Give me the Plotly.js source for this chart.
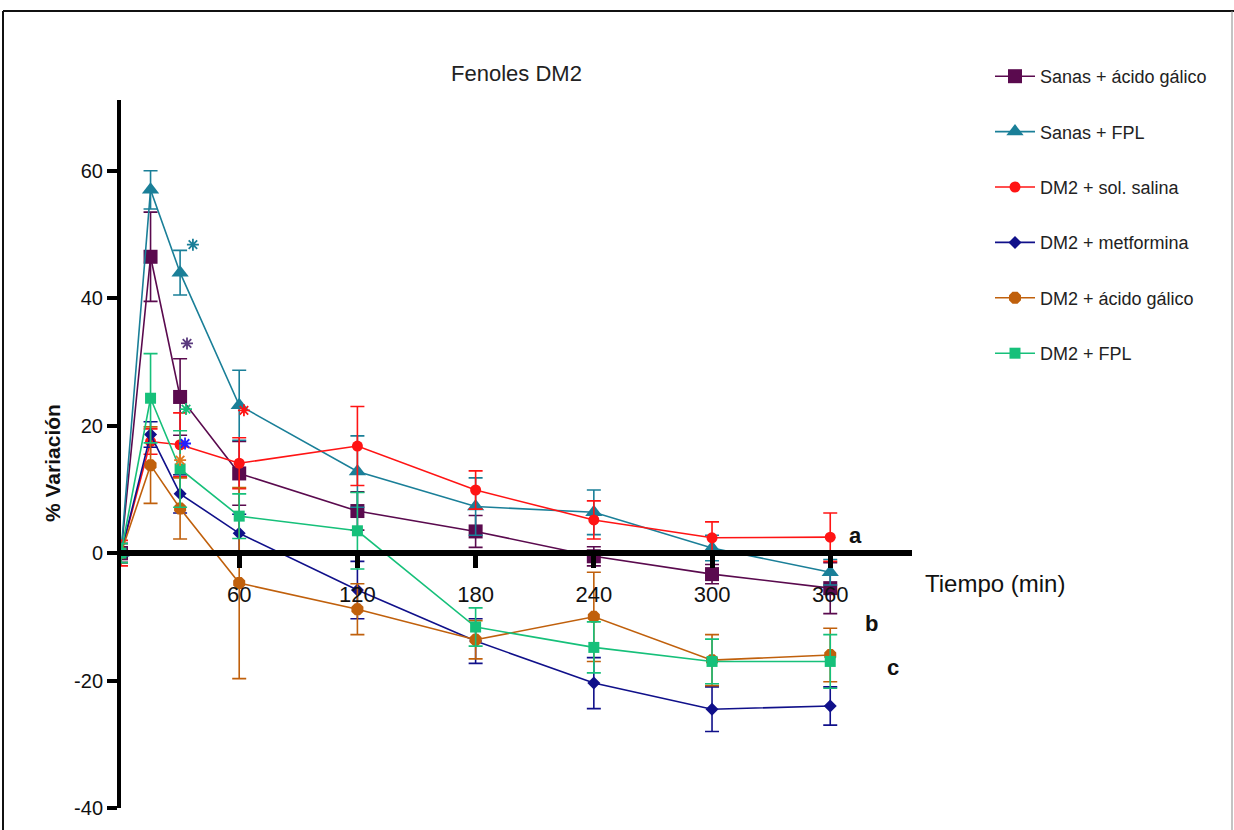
<!DOCTYPE html>
<html>
<head>
<meta charset="utf-8">
<script src="https://cdn.plot.ly/plotly-3.0.1.min.js"></script>
<style>html,body{margin:0;padding:0;background:#fff;}#chart{width:1234px;height:830px;}</style>
</head>
<body>
<div id="chart"></div>
<script>
// ---- data ----
var timeMin = [0, 15, 30, 60, 120, 180, 240, 300, 360];
var seriesNames = ["Sanas + ácido gálico", "Sanas + FPL", "DM2 + sol. salina", "DM2 + metformina", "DM2 + ácido gálico", "DM2 + FPL"];
var sanasGalico    = [0, 46.5, 24.5, 12.5, 6.6, 3.4, -0.5, -3.3, -5.5];
var sanasGalicoErr = [1, 7, 6, 5, 3, 2.5, 1.5, 1.5, 4];
var sanasFPL       = [0, 57, 44, 23.2, 12.8, 7.3, 6.4, 0.8, -3];
var sanasFPLErr    = [1.5, 3, 3.5, 5.5, 5.6, 4.5, 3.5, 2, 2];
var dm2Salina      = [0, 17.5, 17, 14.1, 16.8, 9.9, 5.2, 2.4, 2.5];
var dm2SalinaErr   = [2, 2, 5, 4, 6.2, 3, 3, 2.5, 3.8];
var dm2Metformina    = [0, 18.6, 9.3, 3.1, -5.8, -13.8, -20.4, -24.5, -24];
var dm2MetforminaErr = [1.5, 2, 3, 3, 4.5, 3.5, 4, 3.5, 3];
var dm2Galico      = [0, 13.8, 7, -4.7, -8.8, -13.6, -10, -16.8, -16];
var dm2GalicoErr   = [1.5, 6, 4.8, 15, 4, 3, 7, 4, 4.2];
var dm2FPL         = [0, 24.3, 13.2, 5.8, 3.5, -11.6, -14.8, -17, -17];
var dm2FPLErr      = [1.5, 7, 6, 3.5, 6, 3, 4, 3.5, 4.2];
var xTickVals = [60, 120, 180, 240, 300, 360];
var yTickVals = [-40, -20, 0, 20, 40, 60];
var yTickText = ["-40", "-20", "0", "20", "40", "60"];
var sigLetters = ["a", "b", "c"];
var sigLetterX = [373, 381, 392];
var sigLetterY = [2.7, -11.0, -17.9];
// significance asterisks (x in min, y in %)
var starX = [36.5, 33.5, 33, 62.4, 32.5, 30];
var starY = [48.4, 32.9, 22.6, 22.4, 17.2, 14.6];

// ---- styles ----
var colors = ["#5a0a4e", "#1a7f98", "#ff1414", "#10108a", "#c0600c", "#16c07a"];
var symbols = ["square", "triangle-up", "circle", "diamond", "octagon", "square"];
var sizes = [14, 15, 11, 10, 13, 11];
var values = [sanasGalico, sanasFPL, dm2Salina, dm2Metformina, dm2Galico, dm2FPL];
var errs = [sanasGalicoErr, sanasFPLErr, dm2SalinaErr, dm2MetforminaErr, dm2GalicoErr, dm2FPLErr];
var starColors = [colors[1], "#5a3a7e", "#16c07a", "#ff1414", "#2020ff", "#e07820"];

var sans = "'Liberation Sans', Arial, sans-serif";

var traces = [];
for (var i = 0; i < values.length; i++) {
  traces.push({
    x: timeMin, y: values[i], name: seriesNames[i], type: "scatter", mode: "lines+markers",
    legendgroup: "g" + i,
    line: {color: colors[i], width: 1.6},
    marker: {color: colors[i], symbol: symbols[i], size: sizes[i]},
    error_y: {type: "data", array: errs[i], visible: true, color: colors[i], thickness: 1.6, width: 7}
  });
}
traces.push({
  x: starX, y: starY, type: "scatter", mode: "markers", showlegend: false, hoverinfo: "skip",
  marker: {symbol: "asterisk-open", size: 10, color: starColors, line: {color: starColors, width: 1.8}}
});

// plot area geometry (px)
var L = 121, R = 912, T = 100, B = 808, W = 1234, H = 830;
var yMin = -40, yMax = 71.1;
function fx(px) { return (px - L) / (R - L); }
function fy(py) { return (B - py) / (B - T); }

var annotations = [];
for (var k = 0; k < sigLetters.length; k++) {
  annotations.push({x: sigLetterX[k], y: sigLetterY[k], xref: "x", yref: "y", text: "<b>" + sigLetters[k] + "</b>",
    showarrow: false, xanchor: "center", yanchor: "middle", font: {family: sans, size: 22, color: "#111"}});
}
annotations.push({x: fx(52), y: fy(463), xref: "paper", yref: "paper", text: "<b>% Variación</b>", textangle: -90,
  showarrow: false, xanchor: "center", yanchor: "middle", font: {family: sans, size: 21, color: "#111"}});
annotations.push({x: fx(995), y: fy(583), xref: "paper", yref: "paper", text: "Tiempo (min)",
  showarrow: false, xanchor: "center", yanchor: "middle", font: {family: sans, size: 24, color: "#111"}});

var layout = {
  width: W, height: H,
  margin: {l: L, r: W - R, t: T, b: H - B, pad: 0},
  paper_bgcolor: "#fff", plot_bgcolor: "rgba(0,0,0,0)",
  title: {text: "Fenoles DM2", x: 0.5, xref: "paper", xanchor: "center", y: 1 - 73 / H, yref: "container", yanchor: "middle",
    font: {family: sans, size: 22, color: "#222"}},
  showlegend: true,
  legend: {x: fx(990), y: fy(58), xref: "paper", yref: "paper", xanchor: "left", yanchor: "top",
    font: {family: sans, size: 18, color: "#222"}, tracegroupgap: 29, bgcolor: "rgba(0,0,0,0)", itemwidth: 40},
  xaxis: {range: [0, 401.5], showgrid: false, zeroline: false, showline: true, linecolor: "#000", linewidth: 6,
    anchor: "free", position: (0 - yMin) / (yMax - yMin),
    tickmode: "array", tickvals: xTickVals, ticks: "outside", ticklen: 12, tickwidth: 5, tickcolor: "#000",
    ticklabelstandoff: 8,
    tickfont: {family: sans, size: 22, color: "#111"}},
  yaxis: {range: [yMin, yMax], showgrid: false, zeroline: false, showline: true, linecolor: "#000", linewidth: 4,
    tickmode: "array", tickvals: yTickVals, ticktext: yTickText, ticks: "outside", ticklen: 10, tickwidth: 4, tickcolor: "#000",
    tickfont: {family: sans, size: 20, color: "#111"}},
  annotations: annotations,
  shapes: [
    {type: "line", xref: "paper", yref: "paper", x0: fx(3), x1: fx(1240), y0: fy(11), y1: fy(11), line: {color: "#111", width: 2}},
    {type: "line", xref: "paper", yref: "paper", x0: fx(3), x1: fx(3), y0: fy(11), y1: fy(840), line: {color: "#111", width: 2}},
    {type: "line", xref: "paper", yref: "paper", x0: fx(1232), x1: fx(1232), y0: fy(11), y1: fy(840), line: {color: "#888", width: 1}}
  ]
};

Plotly.newPlot("chart", traces, layout, {displayModeBar: false});
</script>
</body>
</html>
